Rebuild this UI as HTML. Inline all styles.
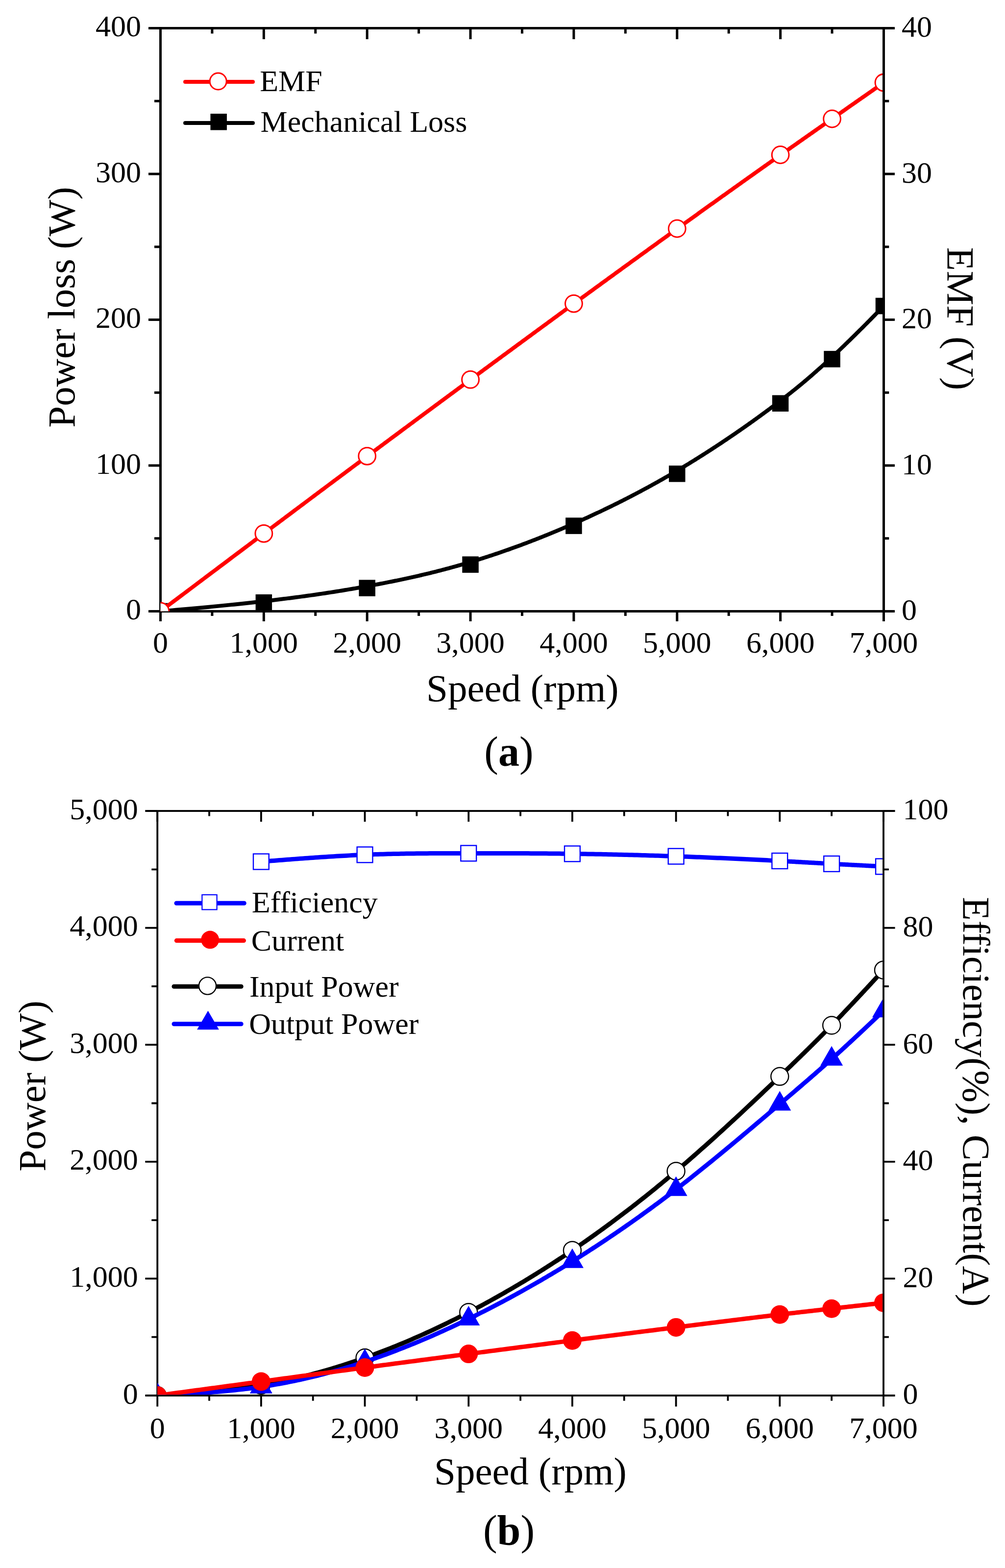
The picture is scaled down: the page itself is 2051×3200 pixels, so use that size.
<!DOCTYPE html>
<html><head><meta charset="utf-8"><title>Speed characteristics</title>
<style>html,body{margin:0;padding:0;background:#fff;}svg{display:block;}text{font-family:'Liberation Serif', 'Times New Roman', serif;fill:#000;}</style>
</head><body>
<svg width="2051" height="3200" viewBox="0 0 2051 3200">
<rect width="2051" height="3200" fill="#fff"/>
<defs>
<clipPath id="c1"><rect x="327.5" y="57.5" width="1473.5" height="1190"/></clipPath>
<clipPath id="c2"><rect x="321.2" y="1655" width="1479.8" height="1191.2"/></clipPath>
</defs>
<rect x="327.5" y="57.5" width="1476" height="1190" fill="none" stroke="#000" stroke-width="5"/>
<path d="M327.5 1247.5V1268 M538.36 1247.5V1268 M749.21 1247.5V1268 M960.07 1247.5V1268 M1170.93 1247.5V1268 M1381.79 1247.5V1268 M1592.64 1247.5V1268 M1803.5 1247.5V1268 M432.93 1247.5V1257 M643.79 1247.5V1257 M854.64 1247.5V1257 M1065.5 1247.5V1257 M1276.36 1247.5V1257 M1487.21 1247.5V1257 M1698.07 1247.5V1257 M327.5 57.5V80 M538.36 57.5V80 M749.21 57.5V80 M960.07 57.5V80 M1170.93 57.5V80 M1381.79 57.5V80 M1592.64 57.5V80 M1803.5 57.5V80 M432.93 57.5V68.6 M643.79 57.5V68.6 M854.64 57.5V68.6 M1065.5 57.5V68.6 M1276.36 57.5V68.6 M1487.21 57.5V68.6 M1698.07 57.5V68.6 M327.5 1247.5H303 M327.5 950H303 M327.5 652.5H303 M327.5 355H303 M327.5 57.5H303 M327.5 1098.75H315 M327.5 801.25H315 M327.5 503.75H315 M327.5 206.25H315 M1803.5 1247.5H1826 M1803.5 950H1826 M1803.5 652.5H1826 M1803.5 355H1826 M1803.5 57.5H1826 M1803.5 1098.75H1814.3 M1803.5 801.25H1814.3 M1803.5 503.75H1814.3 M1803.5 206.25H1814.3" stroke="#000" stroke-width="5" fill="none"/>
<text x="327.5" y="1332" font-size="62" text-anchor="middle">0</text>
<text x="538.36" y="1332" font-size="62" text-anchor="middle">1,000</text>
<text x="749.21" y="1332" font-size="62" text-anchor="middle">2,000</text>
<text x="960.07" y="1332" font-size="62" text-anchor="middle">3,000</text>
<text x="1170.93" y="1332" font-size="62" text-anchor="middle">4,000</text>
<text x="1381.79" y="1332" font-size="62" text-anchor="middle">5,000</text>
<text x="1592.64" y="1332" font-size="62" text-anchor="middle">6,000</text>
<text x="1803.5" y="1332" font-size="62" text-anchor="middle">7,000</text>
<text x="288" y="1264.4" font-size="62" text-anchor="end">0</text>
<text x="288" y="966.9" font-size="62" text-anchor="end">100</text>
<text x="288" y="669.4" font-size="62" text-anchor="end">200</text>
<text x="288" y="371.9" font-size="62" text-anchor="end">300</text>
<text x="288" y="74.4" font-size="62" text-anchor="end">400</text>
<text x="1840" y="1265" font-size="62">0</text>
<text x="1840" y="967.5" font-size="62">10</text>
<text x="1840" y="670" font-size="62">20</text>
<text x="1840" y="372.5" font-size="62">30</text>
<text x="1840" y="75" font-size="62">40</text>
<text x="1066.3" y="1431" font-size="79" text-anchor="middle">Speed (rpm)</text>
<text transform="translate(151.5 627) rotate(-90)" x="0" y="0" font-size="79" text-anchor="middle">Power loss (W)</text>
<text transform="translate(1934 650.5) rotate(90)" x="0" y="0" font-size="79" text-anchor="middle">EMF (V)</text>
<text x="1038.5" y="1562.8" font-size="86" text-anchor="middle">(<tspan font-weight="bold">a</tspan>)</text>
<g clip-path="url(#c1)">
<path d="M327.5 1247.5 L333.8 1246.97 L340.05 1246.43 L346.23 1245.9 L352.34 1245.37 L358.4 1244.85 L364.39 1244.32 L370.33 1243.8 L376.2 1243.28 L382.02 1242.76 L387.78 1242.24 L393.48 1241.72 L399.12 1241.21 L404.7 1240.69 L410.23 1240.18 L415.7 1239.67 L421.12 1239.16 L426.48 1238.65 L431.79 1238.14 L437.04 1237.64 L442.24 1237.13 L447.38 1236.63 L452.48 1236.13 L457.52 1235.63 L462.51 1235.13 L467.45 1234.64 L472.34 1234.14 L477.18 1233.65 L481.97 1233.15 L486.72 1232.66 L491.41 1232.17 L496.06 1231.68 L500.66 1231.19 L505.21 1230.7 L509.72 1230.22 L514.18 1229.73 L518.6 1229.25 L522.97 1228.76 L527.3 1228.28 L531.58 1227.8 L535.83 1227.32 L540.03 1226.84 L544.19 1226.36 L548.3 1225.88 L552.38 1225.41 L556.42 1224.93 L560.41 1224.46 L564.37 1223.98 L568.29 1223.51 L572.17 1223.03 L576.02 1222.56 L579.82 1222.09 L583.59 1221.62 L587.33 1221.15 L591.03 1220.68 L594.69 1220.21 L598.32 1219.75 L601.92 1219.28 L605.48 1218.81 L609.01 1218.35 L612.51 1217.88 L615.97 1217.41 L619.41 1216.95 L622.81 1216.49 L626.18 1216.02 L629.53 1215.56 L632.84 1215.1 L636.13 1214.63 L639.39 1214.17 L642.62 1213.71 L645.83 1213.25 L649.01 1212.79 L652.16 1212.32 L655.29 1211.86 L658.39 1211.4 L661.47 1210.94 L664.52 1210.48 L667.55 1210.02 L670.56 1209.56 L673.55 1209.1 L676.51 1208.64 L679.45 1208.18 L682.38 1207.73 L685.28 1207.27 L688.16 1206.81 L691.03 1206.35 L693.88 1205.89 L696.7 1205.43 L699.51 1204.97 L702.31 1204.51 L705.09 1204.05 L707.85 1203.59 L710.59 1203.13 L713.33 1202.67 L716.04 1202.21 L718.75 1201.75 L721.44 1201.29 L724.12 1200.83 L726.78 1200.36 L729.44 1199.9 L732.08 1199.44 L734.72 1198.98 L737.34 1198.51 L739.95 1198.05 L742.55 1197.59 L745.14 1197.12 L747.73 1196.66 L750.3 1196.19 L752.86 1195.73 L755.41 1195.26 L757.96 1194.79 L760.49 1194.33 L763.01 1193.86 L765.53 1193.39 L768.03 1192.92 L770.53 1192.45 L773.02 1191.98 L775.5 1191.51 L777.97 1191.03 L780.43 1190.56 L782.88 1190.08 L785.32 1189.61 L787.76 1189.13 L790.19 1188.66 L792.61 1188.18 L795.02 1187.7 L797.42 1187.22 L799.82 1186.74 L802.2 1186.25 L804.59 1185.77 L806.96 1185.28 L809.32 1184.8 L811.68 1184.31 L814.03 1183.82 L816.38 1183.33 L818.71 1182.84 L821.04 1182.35 L823.37 1181.85 L825.68 1181.36 L827.99 1180.86 L830.3 1180.36 L832.6 1179.87 L834.89 1179.36 L837.17 1178.86 L839.45 1178.36 L841.73 1177.85 L843.99 1177.34 L846.25 1176.84 L848.51 1176.32 L850.76 1175.81 L853.01 1175.3 L855.25 1174.78 L857.48 1174.27 L859.71 1173.75 L861.94 1173.22 L864.16 1172.7 L866.37 1172.18 L868.58 1171.65 L870.79 1171.12 L872.99 1170.59 L875.19 1170.06 L877.38 1169.52 L879.57 1168.99 L881.76 1168.45 L883.94 1167.91 L886.12 1167.36 L888.29 1166.82 L890.46 1166.27 L892.63 1165.72 L894.79 1165.17 L896.95 1164.61 L899.11 1164.06 L901.26 1163.5 L903.41 1162.94 L905.56 1162.37 L907.71 1161.81 L909.85 1161.24 L911.99 1160.67 L914.13 1160.09 L916.27 1159.52 L918.4 1158.94 L920.53 1158.36 L922.66 1157.77 L924.79 1157.19 L926.91 1156.6 L929.04 1156.01 L931.16 1155.41 L933.28 1154.82 L935.4 1154.22 L937.52 1153.61 L939.64 1153.01 L941.76 1152.4 L943.87 1151.79 L945.99 1151.17 L948.1 1150.55 L950.21 1149.93 L952.33 1149.31 L954.44 1148.69 L956.55 1148.06 L958.66 1147.42 L960.78 1146.79 L962.89 1146.15 L965 1145.51 L967.11 1144.86 L969.22 1144.21 L971.34 1143.56 L973.45 1142.91 L975.56 1142.25 L977.67 1141.59 L979.78 1140.93 L981.9 1140.26 L984.01 1139.59 L986.12 1138.92 L988.23 1138.24 L990.34 1137.56 L992.46 1136.88 L994.57 1136.2 L996.68 1135.51 L998.79 1134.82 L1000.91 1134.12 L1003.02 1133.43 L1005.13 1132.73 L1007.24 1132.02 L1009.35 1131.32 L1011.47 1130.61 L1013.58 1129.89 L1015.69 1129.18 L1017.8 1128.46 L1019.91 1127.74 L1022.03 1127.01 L1024.14 1126.29 L1026.25 1125.55 L1028.36 1124.82 L1030.47 1124.08 L1032.59 1123.34 L1034.7 1122.6 L1036.81 1121.86 L1038.92 1121.11 L1041.03 1120.36 L1043.15 1119.6 L1045.26 1118.84 L1047.37 1118.08 L1049.48 1117.32 L1051.6 1116.55 L1053.71 1115.78 L1055.82 1115.01 L1057.93 1114.24 L1060.04 1113.46 L1062.16 1112.68 L1064.27 1111.89 L1066.38 1111.11 L1068.49 1110.32 L1070.6 1109.52 L1072.72 1108.73 L1074.83 1107.93 L1076.94 1107.13 L1079.05 1106.32 L1081.16 1105.52 L1083.28 1104.71 L1085.39 1103.89 L1087.5 1103.08 L1089.61 1102.26 L1091.73 1101.44 L1093.84 1100.61 L1095.95 1099.78 L1098.06 1098.95 L1100.17 1098.12 L1102.29 1097.29 L1104.4 1096.45 L1106.51 1095.6 L1108.62 1094.76 L1110.73 1093.91 L1112.85 1093.06 L1114.96 1092.21 L1117.07 1091.35 L1119.18 1090.49 L1121.29 1089.63 L1123.41 1088.77 L1125.52 1087.9 L1127.63 1087.03 L1129.74 1086.16 L1131.85 1085.28 L1133.97 1084.4 L1136.08 1083.52 L1138.19 1082.64 L1140.3 1081.75 L1142.42 1080.86 L1144.53 1079.97 L1146.64 1079.08 L1148.75 1078.18 L1150.86 1077.28 L1152.98 1076.37 L1155.09 1075.47 L1157.2 1074.56 L1159.31 1073.65 L1161.42 1072.73 L1163.54 1071.81 L1165.65 1070.89 L1167.76 1069.97 L1169.87 1069.05 L1171.98 1068.12 L1174.1 1067.19 L1176.21 1066.25 L1178.32 1065.32 L1180.43 1064.38 L1182.55 1063.44 L1184.66 1062.49 L1186.77 1061.55 L1188.88 1060.6 L1190.99 1059.64 L1193.11 1058.69 L1195.22 1057.73 L1197.33 1056.77 L1199.44 1055.8 L1201.55 1054.84 L1203.67 1053.87 L1205.78 1052.89 L1207.89 1051.92 L1210 1050.94 L1212.11 1049.96 L1214.23 1048.97 L1216.34 1047.98 L1218.45 1046.99 L1220.56 1046 L1222.67 1045 L1224.79 1044.01 L1226.9 1043 L1229.01 1042 L1231.12 1040.99 L1233.24 1039.98 L1235.35 1038.96 L1237.46 1037.95 L1239.57 1036.93 L1241.68 1035.9 L1243.8 1034.88 L1245.91 1033.85 L1248.02 1032.81 L1250.13 1031.78 L1252.24 1030.74 L1254.36 1029.7 L1256.47 1028.65 L1258.58 1027.6 L1260.69 1026.55 L1262.8 1025.5 L1264.92 1024.44 L1267.03 1023.38 L1269.14 1022.31 L1271.25 1021.25 L1273.37 1020.18 L1275.48 1019.1 L1277.59 1018.03 L1279.7 1016.95 L1281.81 1015.86 L1283.93 1014.77 L1286.04 1013.68 L1288.15 1012.59 L1290.26 1011.49 L1292.37 1010.39 L1294.49 1009.29 L1296.6 1008.18 L1298.71 1007.07 L1300.82 1005.96 L1302.93 1004.84 L1305.05 1003.72 L1307.16 1002.6 L1309.27 1001.47 L1311.38 1000.34 L1313.49 999.21 L1315.61 998.07 L1317.72 996.93 L1319.83 995.79 L1321.94 994.64 L1324.06 993.49 L1326.17 992.34 L1328.28 991.18 L1330.39 990.02 L1332.5 988.85 L1334.62 987.68 L1336.73 986.51 L1338.84 985.34 L1340.95 984.16 L1343.06 982.97 L1345.18 981.79 L1347.29 980.6 L1349.4 979.4 L1351.51 978.21 L1353.62 977.01 L1355.74 975.8 L1357.85 974.6 L1359.96 973.38 L1362.07 972.17 L1364.18 970.95 L1366.3 969.73 L1368.41 968.5 L1370.52 967.27 L1372.63 966.04 L1374.75 964.8 L1376.86 963.56 L1378.97 962.32 L1381.08 961.07 L1383.19 959.81 L1385.31 958.56 L1387.42 957.3 L1389.53 956.04 L1391.64 954.77 L1393.75 953.5 L1395.86 952.22 L1397.97 950.95 L1400.08 949.67 L1402.19 948.38 L1404.3 947.1 L1406.41 945.8 L1408.52 944.51 L1410.63 943.21 L1412.74 941.91 L1414.84 940.61 L1416.95 939.3 L1419.05 937.99 L1421.15 936.68 L1423.26 935.37 L1425.36 934.05 L1427.46 932.73 L1429.56 931.4 L1431.65 930.08 L1433.75 928.75 L1435.85 927.42 L1437.94 926.08 L1440.03 924.75 L1442.12 923.41 L1444.21 922.06 L1446.3 920.72 L1448.39 919.37 L1450.47 918.02 L1452.56 916.67 L1454.64 915.32 L1456.72 913.96 L1458.79 912.61 L1460.87 911.25 L1462.94 909.89 L1465.01 908.52 L1467.08 907.16 L1469.15 905.79 L1471.22 904.42 L1473.28 903.05 L1475.34 901.68 L1477.4 900.3 L1479.45 898.92 L1481.51 897.55 L1483.56 896.17 L1485.6 894.79 L1487.65 893.4 L1489.69 892.02 L1491.73 890.63 L1493.77 889.25 L1495.8 887.86 L1497.84 886.47 L1499.86 885.08 L1501.89 883.69 L1503.91 882.3 L1505.93 880.9 L1507.95 879.51 L1509.96 878.11 L1511.97 876.72 L1513.98 875.32 L1515.98 873.92 L1517.98 872.52 L1519.98 871.12 L1521.97 869.72 L1523.96 868.32 L1525.94 866.92 L1527.92 865.51 L1529.9 864.11 L1531.88 862.71 L1533.85 861.3 L1535.81 859.9 L1537.78 858.5 L1539.73 857.09 L1541.69 855.69 L1543.64 854.28 L1545.58 852.88 L1547.53 851.47 L1549.46 850.06 L1551.4 848.66 L1553.33 847.25 L1555.25 845.85 L1557.17 844.44 L1559.09 843.04 L1561 841.63 L1562.9 840.23 L1564.8 838.82 L1566.7 837.42 L1568.59 836.02 L1570.48 834.61 L1572.36 833.21 L1574.24 831.81 L1576.11 830.41 L1577.98 829.01 L1579.84 827.61 L1581.7 826.21 L1583.55 824.81 L1585.4 823.41 L1587.24 822.01 L1589.07 820.62 L1590.91 819.22 L1592.73 817.82 L1594.56 816.42 L1596.38 815.02 L1598.2 813.62 L1600.02 812.21 L1601.83 810.81 L1603.65 809.4 L1605.46 807.98 L1607.27 806.56 L1609.08 805.14 L1610.89 803.72 L1612.7 802.28 L1614.51 800.85 L1616.32 799.41 L1618.14 797.96 L1619.95 796.5 L1621.77 795.04 L1623.59 793.57 L1625.41 792.09 L1627.24 790.61 L1629.07 789.12 L1630.9 787.61 L1632.74 786.1 L1634.58 784.58 L1636.43 783.05 L1638.28 781.51 L1640.14 779.96 L1642 778.39 L1643.87 776.82 L1645.75 775.23 L1647.64 773.63 L1649.53 772.02 L1651.43 770.39 L1653.34 768.76 L1655.26 767.1 L1657.18 765.44 L1659.12 763.75 L1661.07 762.06 L1663.02 760.35 L1664.99 758.62 L1666.97 756.87 L1668.96 755.11 L1670.96 753.33 L1672.97 751.54 L1675 749.73 L1677.03 747.89 L1679.09 746.04 L1681.15 744.17 L1683.23 742.29 L1685.32 740.38 L1687.43 738.45 L1689.56 736.5 L1691.69 734.53 L1693.85 732.54 L1696.02 730.53 L1698.21 728.49 L1700.41 726.44 L1702.63 724.35 L1704.87 722.25 L1707.13 720.12 L1709.4 717.97 L1711.7 715.8 L1714.01 713.6 L1716.34 711.37 L1718.69 709.12 L1721.07 706.84 L1723.46 704.54 L1725.88 702.21 L1728.31 699.85 L1730.77 697.46 L1733.25 695.05 L1735.75 692.61 L1738.27 690.14 L1740.82 687.64 L1743.39 685.11 L1745.99 682.55 L1748.61 679.96 L1751.25 677.34 L1753.92 674.69 L1756.62 672.01 L1759.34 669.3 L1762.09 666.55 L1764.86 663.77 L1767.66 660.96 L1770.49 658.11 L1773.34 655.24 L1776.23 652.32 L1779.14 649.37 L1782.08 646.39 L1785.05 643.37 L1788.05 640.32 L1791.08 637.23 L1794.14 634.1 L1797.23 630.94 L1800.35 627.74 L1803.5 624.5" fill="none" stroke="#000" stroke-width="8" stroke-linejoin="round"/>
<rect x="310.75" y="1230.75" width="33.5" height="33.5" fill="#000"/>
<rect x="521.61" y="1212.95" width="33.5" height="33.5" fill="#000"/>
<rect x="732.46" y="1183.35" width="33.5" height="33.5" fill="#000"/>
<rect x="943.32" y="1135.45" width="33.5" height="33.5" fill="#000"/>
<rect x="1154.18" y="1056.35" width="33.5" height="33.5" fill="#000"/>
<rect x="1365.04" y="950.15" width="33.5" height="33.5" fill="#000"/>
<rect x="1575.89" y="806.45" width="33.5" height="33.5" fill="#000"/>
<rect x="1681.32" y="716.15" width="33.5" height="33.5" fill="#000"/>
<rect x="1786.75" y="607.75" width="33.5" height="33.5" fill="#000"/>
<path d="M327.5 1247.5 L333.8 1242.75 L340.05 1238.06 L346.23 1233.41 L352.34 1228.8 L358.4 1224.25 L364.39 1219.74 L370.33 1215.27 L376.2 1210.85 L382.02 1206.47 L387.78 1202.14 L393.48 1197.86 L399.12 1193.61 L404.7 1189.41 L410.23 1185.25 L415.7 1181.14 L421.12 1177.07 L426.48 1173.03 L431.79 1169.04 L437.04 1165.09 L442.24 1161.18 L447.38 1157.32 L452.48 1153.49 L457.52 1149.7 L462.51 1145.94 L467.45 1142.23 L472.34 1138.55 L477.18 1134.92 L481.97 1131.32 L486.72 1127.75 L491.41 1124.23 L496.06 1120.73 L500.66 1117.28 L505.21 1113.86 L509.72 1110.47 L514.18 1107.12 L518.6 1103.8 L522.97 1100.52 L527.3 1097.27 L531.58 1094.05 L535.83 1090.87 L540.03 1087.71 L544.19 1084.59 L548.3 1081.5 L552.38 1078.44 L556.42 1075.41 L560.41 1072.41 L564.37 1069.44 L568.29 1066.5 L572.17 1063.59 L576.02 1060.71 L579.82 1057.85 L583.59 1055.03 L587.33 1052.23 L591.03 1049.45 L594.69 1046.71 L598.32 1043.98 L601.92 1041.29 L605.48 1038.62 L609.01 1035.97 L612.51 1033.35 L615.97 1030.76 L619.41 1028.18 L622.81 1025.63 L626.18 1023.1 L629.53 1020.6 L632.84 1018.12 L636.13 1015.66 L639.39 1013.22 L642.62 1010.8 L645.83 1008.4 L649.01 1006.02 L652.16 1003.66 L655.29 1001.32 L658.39 999 L661.47 996.7 L664.52 994.41 L667.55 992.15 L670.56 989.9 L673.55 987.66 L676.51 985.45 L679.45 983.25 L682.38 981.06 L685.28 978.89 L688.16 976.74 L691.03 974.6 L693.88 972.47 L696.7 970.36 L699.51 968.26 L702.31 966.17 L705.09 964.1 L707.85 962.04 L710.59 959.99 L713.33 957.95 L716.04 955.92 L718.75 953.9 L721.44 951.89 L724.12 949.9 L726.78 947.91 L729.44 945.93 L732.08 943.96 L734.72 941.99 L737.34 940.04 L739.95 938.09 L742.55 936.15 L745.14 934.22 L747.73 932.29 L750.3 930.38 L752.86 928.47 L755.41 926.57 L757.96 924.67 L760.49 922.79 L763.01 920.91 L765.53 919.03 L768.03 917.17 L770.53 915.31 L773.02 913.46 L775.5 911.61 L777.97 909.78 L780.43 907.95 L782.88 906.12 L785.32 904.3 L787.76 902.49 L790.19 900.69 L792.61 898.89 L795.02 897.09 L797.42 895.31 L799.82 893.53 L802.2 891.75 L804.59 889.98 L806.96 888.22 L809.32 886.46 L811.68 884.71 L814.03 882.96 L816.38 881.22 L818.71 879.48 L821.04 877.75 L823.37 876.03 L825.68 874.31 L827.99 872.59 L830.3 870.88 L832.6 869.18 L834.89 867.48 L837.17 865.78 L839.45 864.09 L841.73 862.41 L843.99 860.72 L846.25 859.05 L848.51 857.37 L850.76 855.71 L853.01 854.04 L855.25 852.38 L857.48 850.72 L859.71 849.07 L861.94 847.42 L864.16 845.78 L866.37 844.14 L868.58 842.5 L870.79 840.86 L872.99 839.23 L875.19 837.61 L877.38 835.98 L879.57 834.36 L881.76 832.74 L883.94 831.13 L886.12 829.52 L888.29 827.91 L890.46 826.3 L892.63 824.7 L894.79 823.1 L896.95 821.5 L899.11 819.9 L901.26 818.31 L903.41 816.72 L905.56 815.13 L907.71 813.54 L909.85 811.96 L911.99 810.38 L914.13 808.8 L916.27 807.22 L918.4 805.64 L920.53 804.07 L922.66 802.49 L924.79 800.92 L926.91 799.35 L929.04 797.78 L931.16 796.21 L933.28 794.64 L935.4 793.08 L937.52 791.51 L939.64 789.95 L941.76 788.39 L943.87 786.82 L945.99 785.26 L948.1 783.7 L950.21 782.14 L952.33 780.58 L954.44 779.02 L956.55 777.46 L958.66 775.91 L960.78 774.35 L962.89 772.79 L965 771.23 L967.11 769.67 L969.22 768.11 L971.34 766.56 L973.45 765 L975.56 763.44 L977.67 761.88 L979.78 760.32 L981.9 758.77 L984.01 757.21 L986.12 755.65 L988.23 754.09 L990.34 752.54 L992.46 750.98 L994.57 749.42 L996.68 747.87 L998.79 746.31 L1000.91 744.75 L1003.02 743.2 L1005.13 741.64 L1007.24 740.08 L1009.35 738.53 L1011.47 736.97 L1013.58 735.42 L1015.69 733.86 L1017.8 732.31 L1019.91 730.75 L1022.03 729.2 L1024.14 727.64 L1026.25 726.09 L1028.36 724.53 L1030.47 722.98 L1032.59 721.42 L1034.7 719.87 L1036.81 718.31 L1038.92 716.76 L1041.03 715.2 L1043.15 713.65 L1045.26 712.1 L1047.37 710.54 L1049.48 708.99 L1051.6 707.44 L1053.71 705.88 L1055.82 704.33 L1057.93 702.78 L1060.04 701.22 L1062.16 699.67 L1064.27 698.12 L1066.38 696.57 L1068.49 695.01 L1070.6 693.46 L1072.72 691.91 L1074.83 690.36 L1076.94 688.81 L1079.05 687.25 L1081.16 685.7 L1083.28 684.15 L1085.39 682.6 L1087.5 681.05 L1089.61 679.5 L1091.73 677.95 L1093.84 676.4 L1095.95 674.85 L1098.06 673.3 L1100.17 671.75 L1102.29 670.2 L1104.4 668.65 L1106.51 667.1 L1108.62 665.55 L1110.73 664 L1112.85 662.45 L1114.96 660.91 L1117.07 659.36 L1119.18 657.81 L1121.29 656.26 L1123.41 654.71 L1125.52 653.16 L1127.63 651.62 L1129.74 650.07 L1131.85 648.52 L1133.97 646.98 L1136.08 645.43 L1138.19 643.88 L1140.3 642.34 L1142.42 640.79 L1144.53 639.24 L1146.64 637.7 L1148.75 636.15 L1150.86 634.61 L1152.98 633.06 L1155.09 631.52 L1157.2 629.97 L1159.31 628.43 L1161.42 626.88 L1163.54 625.34 L1165.65 623.79 L1167.76 622.25 L1169.87 620.71 L1171.98 619.16 L1174.1 617.62 L1176.21 616.08 L1178.32 614.53 L1180.43 612.99 L1182.55 611.45 L1184.66 609.9 L1186.77 608.36 L1188.88 606.82 L1190.99 605.28 L1193.11 603.74 L1195.22 602.2 L1197.33 600.65 L1199.44 599.11 L1201.55 597.57 L1203.67 596.03 L1205.78 594.49 L1207.89 592.95 L1210 591.41 L1212.11 589.87 L1214.23 588.33 L1216.34 586.79 L1218.45 585.25 L1220.56 583.72 L1222.67 582.18 L1224.79 580.64 L1226.9 579.1 L1229.01 577.56 L1231.12 576.03 L1233.24 574.49 L1235.35 572.95 L1237.46 571.41 L1239.57 569.88 L1241.68 568.34 L1243.8 566.8 L1245.91 565.27 L1248.02 563.73 L1250.13 562.2 L1252.24 560.66 L1254.36 559.12 L1256.47 557.59 L1258.58 556.06 L1260.69 554.52 L1262.8 552.99 L1264.92 551.45 L1267.03 549.92 L1269.14 548.38 L1271.25 546.85 L1273.37 545.32 L1275.48 543.78 L1277.59 542.25 L1279.7 540.72 L1281.81 539.19 L1283.93 537.65 L1286.04 536.12 L1288.15 534.59 L1290.26 533.06 L1292.37 531.53 L1294.49 530 L1296.6 528.47 L1298.71 526.94 L1300.82 525.41 L1302.93 523.88 L1305.05 522.35 L1307.16 520.82 L1309.27 519.29 L1311.38 517.76 L1313.49 516.23 L1315.61 514.7 L1317.72 513.17 L1319.83 511.65 L1321.94 510.12 L1324.06 508.59 L1326.17 507.06 L1328.28 505.54 L1330.39 504.01 L1332.5 502.48 L1334.62 500.96 L1336.73 499.43 L1338.84 497.9 L1340.95 496.38 L1343.06 494.85 L1345.18 493.33 L1347.29 491.8 L1349.4 490.28 L1351.51 488.75 L1353.62 487.23 L1355.74 485.71 L1357.85 484.18 L1359.96 482.66 L1362.07 481.14 L1364.18 479.61 L1366.3 478.09 L1368.41 476.57 L1370.52 475.05 L1372.63 473.52 L1374.75 472 L1376.86 470.48 L1378.97 468.96 L1381.08 467.44 L1383.19 465.92 L1385.31 464.4 L1387.42 462.88 L1389.53 461.36 L1391.64 459.84 L1393.75 458.32 L1395.86 456.8 L1397.97 455.29 L1400.08 453.77 L1402.19 452.25 L1404.3 450.74 L1406.41 449.22 L1408.52 447.71 L1410.63 446.19 L1412.74 444.68 L1414.84 443.17 L1416.95 441.66 L1419.05 440.15 L1421.15 438.64 L1423.26 437.13 L1425.36 435.62 L1427.46 434.11 L1429.56 432.61 L1431.65 431.1 L1433.75 429.6 L1435.85 428.1 L1437.94 426.6 L1440.03 425.1 L1442.12 423.6 L1444.21 422.1 L1446.3 420.61 L1448.39 419.11 L1450.47 417.62 L1452.56 416.13 L1454.64 414.64 L1456.72 413.15 L1458.79 411.67 L1460.87 410.18 L1462.94 408.7 L1465.01 407.22 L1467.08 405.74 L1469.15 404.26 L1471.22 402.78 L1473.28 401.31 L1475.34 399.84 L1477.4 398.37 L1479.45 396.9 L1481.51 395.43 L1483.56 393.97 L1485.6 392.51 L1487.65 391.05 L1489.69 389.59 L1491.73 388.13 L1493.77 386.68 L1495.8 385.23 L1497.84 383.78 L1499.86 382.34 L1501.89 380.89 L1503.91 379.45 L1505.93 378.01 L1507.95 376.58 L1509.96 375.14 L1511.97 373.71 L1513.98 372.28 L1515.98 370.86 L1517.98 369.43 L1519.98 368.01 L1521.97 366.6 L1523.96 365.18 L1525.94 363.77 L1527.92 362.36 L1529.9 360.95 L1531.88 359.55 L1533.85 358.15 L1535.81 356.75 L1537.78 355.36 L1539.73 353.97 L1541.69 352.58 L1543.64 351.2 L1545.58 349.81 L1547.53 348.44 L1549.46 347.06 L1551.4 345.69 L1553.33 344.32 L1555.25 342.96 L1557.17 341.6 L1559.09 340.24 L1561 338.88 L1562.9 337.53 L1564.8 336.19 L1566.7 334.84 L1568.59 333.5 L1570.48 332.17 L1572.36 330.84 L1574.24 329.51 L1576.11 328.18 L1577.98 326.86 L1579.84 325.55 L1581.7 324.23 L1583.55 322.93 L1585.4 321.62 L1587.24 320.32 L1589.07 319.02 L1590.91 317.73 L1592.73 316.44 L1594.56 315.15 L1596.38 313.86 L1598.2 312.58 L1600.02 311.3 L1601.83 310.02 L1603.65 308.74 L1605.46 307.46 L1607.27 306.19 L1609.08 304.91 L1610.89 303.64 L1612.7 302.36 L1614.51 301.09 L1616.32 299.81 L1618.14 298.54 L1619.95 297.26 L1621.77 295.98 L1623.59 294.7 L1625.41 293.42 L1627.24 292.13 L1629.07 290.85 L1630.9 289.56 L1632.74 288.27 L1634.58 286.97 L1636.43 285.68 L1638.28 284.37 L1640.14 283.07 L1642 281.76 L1643.87 280.45 L1645.75 279.13 L1647.64 277.81 L1649.53 276.48 L1651.43 275.14 L1653.34 273.8 L1655.26 272.46 L1657.18 271.11 L1659.12 269.75 L1661.07 268.38 L1663.02 267.01 L1664.99 265.63 L1666.97 264.25 L1668.96 262.85 L1670.96 261.45 L1672.97 260.04 L1675 258.62 L1677.03 257.19 L1679.09 255.75 L1681.15 254.3 L1683.23 252.85 L1685.32 251.38 L1687.43 249.9 L1689.56 248.42 L1691.69 246.92 L1693.85 245.41 L1696.02 243.89 L1698.21 242.36 L1700.41 240.81 L1702.63 239.26 L1704.87 237.69 L1707.13 236.11 L1709.4 234.52 L1711.7 232.91 L1714.01 231.29 L1716.34 229.66 L1718.69 228.01 L1721.07 226.35 L1723.46 224.67 L1725.88 222.98 L1728.31 221.27 L1730.77 219.55 L1733.25 217.82 L1735.75 216.07 L1738.27 214.3 L1740.82 212.51 L1743.39 210.71 L1745.99 208.89 L1748.61 207.06 L1751.25 205.21 L1753.92 203.34 L1756.62 201.45 L1759.34 199.54 L1762.09 197.62 L1764.86 195.68 L1767.66 193.71 L1770.49 191.73 L1773.34 189.73 L1776.23 187.71 L1779.14 185.67 L1782.08 183.61 L1785.05 181.53 L1788.05 179.43 L1791.08 177.31 L1794.14 175.16 L1797.23 173 L1800.35 170.81 L1803.5 168.6" fill="none" stroke="#f00" stroke-width="8" stroke-linejoin="round"/>
<circle cx="327.5" cy="1247.5" r="17.4" fill="#fff" stroke="#f00" stroke-width="3"/>
<circle cx="538.36" cy="1088.8" r="17.4" fill="#fff" stroke="#f00" stroke-width="3"/>
<circle cx="749.21" cy="930.8" r="17.4" fill="#fff" stroke="#f00" stroke-width="3"/>
<circle cx="960.07" cy="774.7" r="17.4" fill="#fff" stroke="#f00" stroke-width="3"/>
<circle cx="1170.93" cy="619.6" r="17.4" fill="#fff" stroke="#f00" stroke-width="3"/>
<circle cx="1381.79" cy="466.5" r="17.4" fill="#fff" stroke="#f00" stroke-width="3"/>
<circle cx="1592.64" cy="316" r="17.4" fill="#fff" stroke="#f00" stroke-width="3"/>
<circle cx="1698.07" cy="242.5" r="17.4" fill="#fff" stroke="#f00" stroke-width="3"/>
<circle cx="1803.5" cy="168.6" r="17.4" fill="#fff" stroke="#f00" stroke-width="3"/>
</g>
<path d="M378 166.9H516" stroke="#f00" stroke-width="8" stroke-linecap="round"/>
<circle cx="445.2" cy="166" r="17" fill="#fff" stroke="#f00" stroke-width="3"/>
<text x="530.2" y="185.7" font-size="62">EMF</text>
<path d="M378 251.1H516" stroke="#000" stroke-width="8" stroke-linecap="round"/>
<rect x="429.45" y="232.05" width="33.5" height="33.5" fill="#000"/>
<text x="531.5" y="268.8" font-size="62">Mechanical Loss</text>
<rect x="321.2" y="1655" width="1481.8" height="1193" fill="none" stroke="#000" stroke-width="3.8"/>
<path d="M321.2 2848V2870.4 M532.89 2848V2870.4 M744.57 2848V2870.4 M956.26 2848V2870.4 M1167.94 2848V2870.4 M1379.63 2848V2870.4 M1591.31 2848V2870.4 M1803 2848V2870.4 M427.04 2848V2858.7 M638.73 2848V2858.7 M850.41 2848V2858.7 M1062.1 2848V2858.7 M1273.79 2848V2858.7 M1485.47 2848V2858.7 M1697.16 2848V2858.7 M321.2 1655V1677.1 M532.89 1655V1677.1 M744.57 1655V1677.1 M956.26 1655V1677.1 M1167.94 1655V1677.1 M1379.63 1655V1677.1 M1591.31 1655V1677.1 M1803 1655V1677.1 M427.04 1655V1665.6 M638.73 1655V1665.6 M850.41 1655V1665.6 M1062.1 1655V1665.6 M1273.79 1655V1665.6 M1485.47 1655V1665.6 M1697.16 1655V1665.6 M321.2 2848H296.3 M321.2 2609.4H296.3 M321.2 2370.8H296.3 M321.2 2132.2H296.3 M321.2 1893.6H296.3 M321.2 1655H296.3 M321.2 2728.7H309.3 M321.2 2490.1H309.3 M321.2 2251.5H309.3 M321.2 2012.9H309.3 M321.2 1774.3H309.3 M1803 2848H1826.6 M1803 2609.4H1826.6 M1803 2370.8H1826.6 M1803 2132.2H1826.6 M1803 1893.6H1826.6 M1803 1655H1826.6 M1803 2728.7H1813.9 M1803 2490.1H1813.9 M1803 2251.5H1813.9 M1803 2012.9H1813.9 M1803 1774.3H1813.9" stroke="#000" stroke-width="3.8" fill="none"/>
<text x="321.2" y="2934.5" font-size="62" text-anchor="middle">0</text>
<text x="532.89" y="2934.5" font-size="62" text-anchor="middle">1,000</text>
<text x="744.57" y="2934.5" font-size="62" text-anchor="middle">2,000</text>
<text x="956.26" y="2934.5" font-size="62" text-anchor="middle">3,000</text>
<text x="1167.94" y="2934.5" font-size="62" text-anchor="middle">4,000</text>
<text x="1379.63" y="2934.5" font-size="62" text-anchor="middle">5,000</text>
<text x="1591.31" y="2934.5" font-size="62" text-anchor="middle">6,000</text>
<text x="1803" y="2934.5" font-size="62" text-anchor="middle">7,000</text>
<text x="281.7" y="2864.5" font-size="62" text-anchor="end">0</text>
<text x="281.7" y="2625.9" font-size="62" text-anchor="end">1,000</text>
<text x="281.7" y="2387.3" font-size="62" text-anchor="end">2,000</text>
<text x="281.7" y="2148.7" font-size="62" text-anchor="end">3,000</text>
<text x="281.7" y="1910.1" font-size="62" text-anchor="end">4,000</text>
<text x="281.7" y="1671.5" font-size="62" text-anchor="end">5,000</text>
<text x="1842.4" y="2865.3" font-size="62">0</text>
<text x="1842.4" y="2626.7" font-size="62">20</text>
<text x="1842.4" y="2388.1" font-size="62">40</text>
<text x="1842.4" y="2149.5" font-size="62">60</text>
<text x="1842.4" y="1910.9" font-size="62">80</text>
<text x="1842.4" y="1672.3" font-size="62">100</text>
<text x="1082.4" y="3029" font-size="79" text-anchor="middle">Speed (rpm)</text>
<text transform="translate(92.4 2216.3) rotate(-90)" x="0" y="0" font-size="79" text-anchor="middle">Power (W)</text>
<text transform="translate(1965.7 2248.6) rotate(90)" x="0" y="0" font-size="79" text-anchor="middle">Efficiency(%), Current(A)</text>
<text x="1038.5" y="3151.7" font-size="86" text-anchor="middle">(<tspan font-weight="bold">b</tspan>)</text>
<g clip-path="url(#c2)">
<path d="M532.89 1758.5 L538.18 1758.08 L543.47 1757.66 L548.76 1757.24 L554.05 1756.82 L559.35 1756.4 L564.64 1755.98 L569.93 1755.57 L575.22 1755.15 L580.51 1754.74 L585.81 1754.33 L591.1 1753.92 L596.39 1753.52 L601.68 1753.12 L606.98 1752.72 L612.27 1752.33 L617.56 1751.94 L622.85 1751.55 L628.14 1751.17 L633.44 1750.79 L638.73 1750.42 L644.02 1750.05 L649.31 1749.69 L654.61 1749.33 L659.9 1748.98 L665.19 1748.64 L670.48 1748.3 L675.77 1747.97 L681.07 1747.65 L686.36 1747.33 L691.65 1747.02 L696.94 1746.72 L702.23 1746.43 L707.53 1746.14 L712.82 1745.87 L718.11 1745.6 L723.4 1745.34 L728.69 1745.09 L733.99 1744.85 L739.28 1744.62 L744.57 1744.4 L749.86 1744.19 L755.16 1743.99 L760.45 1743.8 L765.74 1743.62 L771.03 1743.45 L776.32 1743.29 L781.62 1743.13 L786.91 1742.99 L792.2 1742.85 L797.49 1742.72 L802.78 1742.6 L808.08 1742.49 L813.37 1742.39 L818.66 1742.29 L823.95 1742.2 L829.25 1742.11 L834.54 1742.03 L839.83 1741.96 L845.12 1741.89 L850.41 1741.83 L855.71 1741.78 L861 1741.73 L866.29 1741.68 L871.58 1741.64 L876.87 1741.6 L882.17 1741.57 L887.46 1741.54 L892.75 1741.51 L898.04 1741.49 L903.34 1741.47 L908.63 1741.46 L913.92 1741.44 L919.21 1741.43 L924.5 1741.42 L929.8 1741.42 L935.09 1741.41 L940.38 1741.41 L945.67 1741.4 L950.96 1741.4 L956.26 1741.4 L961.55 1741.4 L966.84 1741.4 L972.13 1741.4 L977.43 1741.4 L982.72 1741.4 L988.01 1741.4 L993.3 1741.4 L998.59 1741.41 L1003.89 1741.41 L1009.18 1741.42 L1014.47 1741.42 L1019.76 1741.43 L1025.05 1741.44 L1030.35 1741.45 L1035.64 1741.46 L1040.93 1741.47 L1046.22 1741.49 L1051.52 1741.5 L1056.81 1741.52 L1062.1 1741.54 L1067.39 1741.56 L1072.68 1741.59 L1077.98 1741.61 L1083.27 1741.64 L1088.56 1741.67 L1093.85 1741.7 L1099.14 1741.73 L1104.44 1741.77 L1109.73 1741.8 L1115.02 1741.85 L1120.31 1741.89 L1125.61 1741.93 L1130.9 1741.98 L1136.19 1742.03 L1141.48 1742.09 L1146.77 1742.14 L1152.07 1742.2 L1157.36 1742.27 L1162.65 1742.33 L1167.94 1742.4 L1173.23 1742.47 L1178.53 1742.55 L1183.82 1742.63 L1189.11 1742.71 L1194.4 1742.79 L1199.7 1742.88 L1204.99 1742.97 L1210.28 1743.06 L1215.57 1743.16 L1220.86 1743.26 L1226.16 1743.37 L1231.45 1743.47 L1236.74 1743.58 L1242.03 1743.69 L1247.32 1743.81 L1252.62 1743.93 L1257.91 1744.05 L1263.2 1744.17 L1268.49 1744.3 L1273.79 1744.43 L1279.08 1744.56 L1284.37 1744.7 L1289.66 1744.83 L1294.95 1744.98 L1300.25 1745.12 L1305.54 1745.27 L1310.83 1745.42 L1316.12 1745.57 L1321.41 1745.72 L1326.71 1745.88 L1332 1746.04 L1337.29 1746.2 L1342.58 1746.37 L1347.88 1746.54 L1353.17 1746.71 L1358.46 1746.88 L1363.75 1747.06 L1369.04 1747.24 L1374.34 1747.42 L1379.63 1747.6 L1384.92 1747.79 L1390.21 1747.97 L1395.5 1748.17 L1400.8 1748.36 L1406.09 1748.56 L1411.38 1748.75 L1416.67 1748.96 L1421.97 1749.16 L1427.26 1749.36 L1432.55 1749.57 L1437.84 1749.78 L1443.13 1750 L1448.43 1750.21 L1453.72 1750.43 L1459.01 1750.65 L1464.3 1750.88 L1469.6 1751.1 L1474.89 1751.33 L1480.18 1751.56 L1485.47 1751.8 L1490.76 1752.03 L1496.06 1752.27 L1501.35 1752.51 L1506.64 1752.76 L1511.93 1753 L1517.22 1753.25 L1522.52 1753.5 L1527.81 1753.76 L1533.1 1754.01 L1538.39 1754.27 L1543.68 1754.53 L1548.98 1754.8 L1554.27 1755.06 L1559.56 1755.33 L1564.85 1755.61 L1570.15 1755.88 L1575.44 1756.16 L1580.73 1756.43 L1586.02 1756.72 L1591.31 1757 L1593.96 1757.14 L1596.61 1757.29 L1599.25 1757.43 L1601.9 1757.58 L1604.54 1757.72 L1607.19 1757.87 L1609.84 1758.01 L1612.48 1758.16 L1615.13 1758.31 L1617.78 1758.45 L1620.42 1758.6 L1623.07 1758.75 L1625.71 1758.9 L1628.36 1759.05 L1631.01 1759.19 L1633.65 1759.34 L1636.3 1759.49 L1638.94 1759.64 L1641.59 1759.79 L1644.24 1759.94 L1646.88 1760.09 L1649.53 1760.24 L1652.17 1760.39 L1654.82 1760.54 L1657.47 1760.69 L1660.11 1760.84 L1662.76 1760.99 L1665.4 1761.13 L1668.05 1761.28 L1670.7 1761.43 L1673.34 1761.58 L1675.99 1761.73 L1678.63 1761.88 L1681.28 1762.02 L1683.93 1762.17 L1686.57 1762.32 L1689.22 1762.46 L1691.87 1762.61 L1694.51 1762.76 L1697.16 1762.9 L1699.8 1763.04 L1702.45 1763.19 L1705.1 1763.33 L1707.74 1763.47 L1710.39 1763.62 L1713.03 1763.76 L1715.68 1763.9 L1718.33 1764.04 L1720.97 1764.18 L1723.62 1764.32 L1726.26 1764.46 L1728.91 1764.6 L1731.56 1764.74 L1734.2 1764.88 L1736.85 1765.02 L1739.49 1765.15 L1742.14 1765.29 L1744.79 1765.43 L1747.43 1765.57 L1750.08 1765.7 L1752.72 1765.84 L1755.37 1765.98 L1758.02 1766.11 L1760.66 1766.25 L1763.31 1766.38 L1765.95 1766.52 L1768.6 1766.65 L1771.25 1766.79 L1773.89 1766.92 L1776.54 1767.06 L1779.19 1767.19 L1781.83 1767.33 L1784.48 1767.46 L1787.12 1767.6 L1789.77 1767.73 L1792.42 1767.86 L1795.06 1768 L1797.71 1768.13 L1800.35 1768.27 L1803 1768.4" fill="none" stroke="#00f" stroke-width="9" stroke-linejoin="round"/>
<rect x="516.99" y="1742.6" width="31.8" height="31.8" fill="#fff" stroke="#00f" stroke-width="2.4"/>
<rect x="728.67" y="1728.5" width="31.8" height="31.8" fill="#fff" stroke="#00f" stroke-width="2.4"/>
<rect x="940.36" y="1725.5" width="31.8" height="31.8" fill="#fff" stroke="#00f" stroke-width="2.4"/>
<rect x="1152.04" y="1726.5" width="31.8" height="31.8" fill="#fff" stroke="#00f" stroke-width="2.4"/>
<rect x="1363.73" y="1731.7" width="31.8" height="31.8" fill="#fff" stroke="#00f" stroke-width="2.4"/>
<rect x="1575.41" y="1741.1" width="31.8" height="31.8" fill="#fff" stroke="#00f" stroke-width="2.4"/>
<rect x="1681.26" y="1747" width="31.8" height="31.8" fill="#fff" stroke="#00f" stroke-width="2.4"/>
<rect x="1787.1" y="1752.5" width="31.8" height="31.8" fill="#fff" stroke="#00f" stroke-width="2.4"/>
<path d="M321.2 2848 L326.49 2847.65 L331.78 2847.3 L337.08 2846.94 L342.37 2846.59 L347.66 2846.23 L352.95 2845.86 L358.25 2845.5 L363.54 2845.13 L368.83 2844.75 L374.12 2844.37 L379.41 2843.98 L384.71 2843.58 L390 2843.18 L395.29 2842.77 L400.58 2842.35 L405.87 2841.91 L411.17 2841.47 L416.46 2841.02 L421.75 2840.55 L427.04 2840.07 L432.33 2839.58 L437.63 2839.07 L442.92 2838.55 L448.21 2838.01 L453.5 2837.46 L458.8 2836.89 L464.09 2836.31 L469.38 2835.7 L474.67 2835.08 L479.96 2834.44 L485.26 2833.77 L490.55 2833.09 L495.84 2832.39 L501.13 2831.66 L506.42 2830.91 L511.72 2830.14 L517.01 2829.34 L522.3 2828.52 L527.59 2827.67 L532.89 2826.8 L538.18 2825.9 L543.47 2824.97 L548.76 2824.02 L554.05 2823.04 L559.35 2822.04 L564.64 2821.01 L569.93 2819.95 L575.22 2818.86 L580.51 2817.75 L585.81 2816.62 L591.1 2815.46 L596.39 2814.27 L601.68 2813.06 L606.98 2811.82 L612.27 2810.56 L617.56 2809.27 L622.85 2807.95 L628.14 2806.62 L633.44 2805.25 L638.73 2803.86 L644.02 2802.45 L649.31 2801.01 L654.61 2799.55 L659.9 2798.06 L665.19 2796.55 L670.48 2795.01 L675.77 2793.45 L681.07 2791.87 L686.36 2790.26 L691.65 2788.62 L696.94 2786.97 L702.23 2785.29 L707.53 2783.58 L712.82 2781.86 L718.11 2780.1 L723.4 2778.33 L728.69 2776.53 L733.99 2774.71 L739.28 2772.87 L744.57 2771 L749.86 2769.11 L755.16 2767.2 L760.45 2765.26 L765.74 2763.3 L771.03 2761.32 L776.32 2759.32 L781.62 2757.29 L786.91 2755.24 L792.2 2753.17 L797.49 2751.08 L802.78 2748.96 L808.08 2746.82 L813.37 2744.66 L818.66 2742.48 L823.95 2740.28 L829.25 2738.05 L834.54 2735.8 L839.83 2733.53 L845.12 2731.24 L850.41 2728.93 L855.71 2726.59 L861 2724.24 L866.29 2721.86 L871.58 2719.46 L876.87 2717.04 L882.17 2714.6 L887.46 2712.13 L892.75 2709.65 L898.04 2707.14 L903.34 2704.61 L908.63 2702.07 L913.92 2699.5 L919.21 2696.91 L924.5 2694.3 L929.8 2691.67 L935.09 2689.01 L940.38 2686.34 L945.67 2683.65 L950.96 2680.93 L956.26 2678.2 L961.55 2675.45 L966.84 2672.67 L972.13 2669.88 L977.43 2667.06 L982.72 2664.22 L988.01 2661.37 L993.3 2658.49 L998.59 2655.59 L1003.89 2652.67 L1009.18 2649.73 L1014.47 2646.77 L1019.76 2643.79 L1025.05 2640.79 L1030.35 2637.77 L1035.64 2634.72 L1040.93 2631.66 L1046.22 2628.57 L1051.52 2625.46 L1056.81 2622.34 L1062.1 2619.19 L1067.39 2616.02 L1072.68 2612.83 L1077.98 2609.61 L1083.27 2606.38 L1088.56 2603.12 L1093.85 2599.85 L1099.14 2596.55 L1104.44 2593.23 L1109.73 2589.89 L1115.02 2586.52 L1120.31 2583.14 L1125.61 2579.73 L1130.9 2576.31 L1136.19 2572.86 L1141.48 2569.38 L1146.77 2565.89 L1152.07 2562.38 L1157.36 2558.84 L1162.65 2555.28 L1167.94 2551.7 L1173.23 2548.1 L1178.53 2544.47 L1183.82 2540.83 L1189.11 2537.16 L1194.4 2533.47 L1199.7 2529.75 L1204.99 2526.02 L1210.28 2522.26 L1215.57 2518.48 L1220.86 2514.68 L1226.16 2510.85 L1231.45 2507.01 L1236.74 2503.14 L1242.03 2499.25 L1247.32 2495.33 L1252.62 2491.4 L1257.91 2487.44 L1263.2 2483.46 L1268.49 2479.46 L1273.79 2475.43 L1279.08 2471.39 L1284.37 2467.32 L1289.66 2463.22 L1294.95 2459.11 L1300.25 2454.97 L1305.54 2450.81 L1310.83 2446.63 L1316.12 2442.42 L1321.41 2438.2 L1326.71 2433.95 L1332 2429.67 L1337.29 2425.38 L1342.58 2421.06 L1347.88 2416.72 L1353.17 2412.36 L1358.46 2407.97 L1363.75 2403.56 L1369.04 2399.13 L1374.34 2394.68 L1379.63 2390.2 L1384.92 2385.7 L1390.21 2381.18 L1395.5 2376.63 L1400.8 2372.07 L1406.09 2367.48 L1411.38 2362.87 L1416.67 2358.25 L1421.97 2353.6 L1427.26 2348.93 L1432.55 2344.24 L1437.84 2339.54 L1443.13 2334.81 L1448.43 2330.07 L1453.72 2325.31 L1459.01 2320.54 L1464.3 2315.74 L1469.6 2310.94 L1474.89 2306.11 L1480.18 2301.27 L1485.47 2296.42 L1490.76 2291.55 L1496.06 2286.66 L1501.35 2281.77 L1506.64 2276.85 L1511.93 2271.93 L1517.22 2266.99 L1522.52 2262.05 L1527.81 2257.09 L1533.1 2252.11 L1538.39 2247.13 L1543.68 2242.14 L1548.98 2237.14 L1554.27 2232.12 L1559.56 2227.1 L1564.85 2222.07 L1570.15 2217.03 L1575.44 2211.98 L1580.73 2206.93 L1586.02 2201.87 L1591.31 2196.8 L1593.96 2194.26 L1596.61 2191.72 L1599.25 2189.18 L1601.9 2186.64 L1604.54 2184.1 L1607.19 2181.55 L1609.84 2179 L1612.48 2176.45 L1615.13 2173.89 L1617.78 2171.34 L1620.42 2168.78 L1623.07 2166.21 L1625.71 2163.64 L1628.36 2161.07 L1631.01 2158.5 L1633.65 2155.92 L1636.3 2153.34 L1638.94 2150.75 L1641.59 2148.16 L1644.24 2145.57 L1646.88 2142.97 L1649.53 2140.36 L1652.17 2137.75 L1654.82 2135.14 L1657.47 2132.52 L1660.11 2129.89 L1662.76 2127.26 L1665.4 2124.63 L1668.05 2121.98 L1670.7 2119.34 L1673.34 2116.68 L1675.99 2114.02 L1678.63 2111.36 L1681.28 2108.68 L1683.93 2106 L1686.57 2103.32 L1689.22 2100.62 L1691.87 2097.92 L1694.51 2095.22 L1697.16 2092.5 L1699.8 2089.78 L1702.45 2087.05 L1705.1 2084.31 L1707.74 2081.57 L1710.39 2078.81 L1713.03 2076.06 L1715.68 2073.29 L1718.33 2070.52 L1720.97 2067.74 L1723.62 2064.96 L1726.26 2062.17 L1728.91 2059.38 L1731.56 2056.58 L1734.2 2053.78 L1736.85 2050.97 L1739.49 2048.16 L1742.14 2045.34 L1744.79 2042.51 L1747.43 2039.69 L1750.08 2036.86 L1752.72 2034.02 L1755.37 2031.18 L1758.02 2028.34 L1760.66 2025.5 L1763.31 2022.65 L1765.95 2019.8 L1768.6 2016.95 L1771.25 2014.09 L1773.89 2011.23 L1776.54 2008.37 L1779.19 2005.51 L1781.83 2002.65 L1784.48 1999.78 L1787.12 1996.92 L1789.77 1994.05 L1792.42 1991.18 L1795.06 1988.31 L1797.71 1985.44 L1800.35 1982.57 L1803 1979.7" fill="none" stroke="#000" stroke-width="9" stroke-linejoin="round"/>
<circle cx="321.2" cy="2848" r="18" fill="#fff" stroke="#000" stroke-width="2.4"/>
<circle cx="532.89" cy="2826.8" r="18" fill="#fff" stroke="#000" stroke-width="2.4"/>
<circle cx="744.57" cy="2771" r="18" fill="#fff" stroke="#000" stroke-width="2.4"/>
<circle cx="956.26" cy="2678.2" r="18" fill="#fff" stroke="#000" stroke-width="2.4"/>
<circle cx="1167.94" cy="2551.7" r="18" fill="#fff" stroke="#000" stroke-width="2.4"/>
<circle cx="1379.63" cy="2390.2" r="18" fill="#fff" stroke="#000" stroke-width="2.4"/>
<circle cx="1591.31" cy="2196.8" r="18" fill="#fff" stroke="#000" stroke-width="2.4"/>
<circle cx="1697.16" cy="2092.5" r="18" fill="#fff" stroke="#000" stroke-width="2.4"/>
<circle cx="1803" cy="1979.7" r="18" fill="#fff" stroke="#000" stroke-width="2.4"/>
<path d="M321.2 2848 L326.49 2847.73 L331.78 2847.45 L337.08 2847.18 L342.37 2846.9 L347.66 2846.62 L352.95 2846.34 L358.25 2846.06 L363.54 2845.76 L368.83 2845.47 L374.12 2845.17 L379.41 2844.86 L384.71 2844.54 L390 2844.22 L395.29 2843.89 L400.58 2843.55 L405.87 2843.2 L411.17 2842.84 L416.46 2842.47 L421.75 2842.09 L427.04 2841.7 L432.33 2841.29 L437.63 2840.87 L442.92 2840.44 L448.21 2839.99 L453.5 2839.53 L458.8 2839.05 L464.09 2838.55 L469.38 2838.04 L474.67 2837.5 L479.96 2836.95 L485.26 2836.39 L490.55 2835.8 L495.84 2835.19 L501.13 2834.56 L506.42 2833.91 L511.72 2833.23 L517.01 2832.53 L522.3 2831.81 L527.59 2831.07 L532.89 2830.3 L538.18 2829.51 L543.47 2828.68 L548.76 2827.84 L554.05 2826.97 L559.35 2826.07 L564.64 2825.15 L569.93 2824.2 L575.22 2823.23 L580.51 2822.23 L585.81 2821.21 L591.1 2820.17 L596.39 2819.09 L601.68 2818 L606.98 2816.88 L612.27 2815.73 L617.56 2814.56 L622.85 2813.36 L628.14 2812.14 L633.44 2810.9 L638.73 2809.63 L644.02 2808.34 L649.31 2807.02 L654.61 2805.68 L659.9 2804.31 L665.19 2802.92 L670.48 2801.51 L675.77 2800.07 L681.07 2798.61 L686.36 2797.12 L691.65 2795.61 L696.94 2794.08 L702.23 2792.52 L707.53 2790.93 L712.82 2789.33 L718.11 2787.7 L723.4 2786.05 L728.69 2784.37 L733.99 2782.67 L739.28 2780.95 L744.57 2779.2 L749.86 2777.43 L755.16 2775.64 L760.45 2773.82 L765.74 2771.98 L771.03 2770.12 L776.32 2768.23 L781.62 2766.33 L786.91 2764.4 L792.2 2762.45 L797.49 2760.47 L802.78 2758.48 L808.08 2756.46 L813.37 2754.42 L818.66 2752.36 L823.95 2750.28 L829.25 2748.17 L834.54 2746.05 L839.83 2743.9 L845.12 2741.74 L850.41 2739.55 L855.71 2737.34 L861 2735.12 L866.29 2732.87 L871.58 2730.6 L876.87 2728.31 L882.17 2726.01 L887.46 2723.68 L892.75 2721.33 L898.04 2718.96 L903.34 2716.58 L908.63 2714.18 L913.92 2711.75 L919.21 2709.31 L924.5 2706.85 L929.8 2704.37 L935.09 2701.87 L940.38 2699.36 L945.67 2696.82 L950.96 2694.27 L956.26 2691.7 L961.55 2689.11 L966.84 2686.51 L972.13 2683.88 L977.43 2681.24 L982.72 2678.59 L988.01 2675.91 L993.3 2673.22 L998.59 2670.5 L1003.89 2667.78 L1009.18 2665.03 L1014.47 2662.26 L1019.76 2659.48 L1025.05 2656.68 L1030.35 2653.86 L1035.64 2651.03 L1040.93 2648.17 L1046.22 2645.3 L1051.52 2642.41 L1056.81 2639.5 L1062.1 2636.58 L1067.39 2633.63 L1072.68 2630.67 L1077.98 2627.69 L1083.27 2624.7 L1088.56 2621.68 L1093.85 2618.65 L1099.14 2615.6 L1104.44 2612.53 L1109.73 2609.44 L1115.02 2606.34 L1120.31 2603.22 L1125.61 2600.08 L1130.9 2596.92 L1136.19 2593.74 L1141.48 2590.55 L1146.77 2587.33 L1152.07 2584.1 L1157.36 2580.85 L1162.65 2577.59 L1167.94 2574.3 L1173.23 2571 L1178.53 2567.68 L1183.82 2564.34 L1189.11 2560.98 L1194.4 2557.6 L1199.7 2554.21 L1204.99 2550.79 L1210.28 2547.36 L1215.57 2543.91 L1220.86 2540.44 L1226.16 2536.95 L1231.45 2533.44 L1236.74 2529.92 L1242.03 2526.37 L1247.32 2522.81 L1252.62 2519.23 L1257.91 2515.62 L1263.2 2512 L1268.49 2508.36 L1273.79 2504.7 L1279.08 2501.02 L1284.37 2497.32 L1289.66 2493.6 L1294.95 2489.86 L1300.25 2486.1 L1305.54 2482.32 L1310.83 2478.52 L1316.12 2474.71 L1321.41 2470.87 L1326.71 2467.01 L1332 2463.13 L1337.29 2459.23 L1342.58 2455.31 L1347.88 2451.37 L1353.17 2447.41 L1358.46 2443.43 L1363.75 2439.43 L1369.04 2435.41 L1374.34 2431.36 L1379.63 2427.3 L1384.92 2423.22 L1390.21 2419.11 L1395.5 2414.99 L1400.8 2410.84 L1406.09 2406.68 L1411.38 2402.5 L1416.67 2398.3 L1421.97 2394.08 L1427.26 2389.85 L1432.55 2385.6 L1437.84 2381.33 L1443.13 2377.05 L1448.43 2372.76 L1453.72 2368.45 L1459.01 2364.13 L1464.3 2359.79 L1469.6 2355.44 L1474.89 2351.08 L1480.18 2346.71 L1485.47 2342.32 L1490.76 2337.93 L1496.06 2333.53 L1501.35 2329.11 L1506.64 2324.69 L1511.93 2320.26 L1517.22 2315.82 L1522.52 2311.37 L1527.81 2306.92 L1533.1 2302.45 L1538.39 2297.99 L1543.68 2293.51 L1548.98 2289.04 L1554.27 2284.56 L1559.56 2280.07 L1564.85 2275.58 L1570.15 2271.09 L1575.44 2266.59 L1580.73 2262.1 L1586.02 2257.6 L1591.31 2253.1 L1593.96 2250.85 L1596.61 2248.6 L1599.25 2246.35 L1601.9 2244.1 L1604.54 2241.85 L1607.19 2239.6 L1609.84 2237.34 L1612.48 2235.09 L1615.13 2232.83 L1617.78 2230.57 L1620.42 2228.32 L1623.07 2226.05 L1625.71 2223.79 L1628.36 2221.53 L1631.01 2219.26 L1633.65 2216.99 L1636.3 2214.72 L1638.94 2212.44 L1641.59 2210.17 L1644.24 2207.89 L1646.88 2205.6 L1649.53 2203.31 L1652.17 2201.02 L1654.82 2198.73 L1657.47 2196.43 L1660.11 2194.13 L1662.76 2191.82 L1665.4 2189.51 L1668.05 2187.2 L1670.7 2184.88 L1673.34 2182.55 L1675.99 2180.23 L1678.63 2177.89 L1681.28 2175.55 L1683.93 2173.21 L1686.57 2170.86 L1689.22 2168.5 L1691.87 2166.14 L1694.51 2163.77 L1697.16 2161.4 L1699.8 2159.02 L1702.45 2156.63 L1705.1 2154.24 L1707.74 2151.85 L1710.39 2149.44 L1713.03 2147.03 L1715.68 2144.62 L1718.33 2142.2 L1720.97 2139.78 L1723.62 2137.35 L1726.26 2134.91 L1728.91 2132.48 L1731.56 2130.03 L1734.2 2127.59 L1736.85 2125.14 L1739.49 2122.68 L1742.14 2120.22 L1744.79 2117.76 L1747.43 2115.29 L1750.08 2112.83 L1752.72 2110.35 L1755.37 2107.88 L1758.02 2105.4 L1760.66 2102.92 L1763.31 2100.44 L1765.95 2097.95 L1768.6 2095.47 L1771.25 2092.98 L1773.89 2090.48 L1776.54 2087.99 L1779.19 2085.5 L1781.83 2083 L1784.48 2080.5 L1787.12 2078 L1789.77 2075.51 L1792.42 2073.01 L1795.06 2070.5 L1797.71 2068 L1800.35 2065.5 L1803 2063" fill="none" stroke="#00f" stroke-width="9" stroke-linejoin="round"/>
<path d="M321.2 2821.33L344.2 2861.33L298.2 2861.33Z" fill="#00f"/>
<path d="M532.89 2803.63L555.89 2843.63L509.89 2843.63Z" fill="#00f"/>
<path d="M744.57 2752.53L767.57 2792.53L721.57 2792.53Z" fill="#00f"/>
<path d="M956.26 2665.03L979.26 2705.03L933.26 2705.03Z" fill="#00f"/>
<path d="M1167.94 2547.63L1190.94 2587.63L1144.94 2587.63Z" fill="#00f"/>
<path d="M1379.63 2400.63L1402.63 2440.63L1356.63 2440.63Z" fill="#00f"/>
<path d="M1591.31 2226.43L1614.31 2266.43L1568.31 2266.43Z" fill="#00f"/>
<path d="M1697.16 2134.73L1720.16 2174.73L1674.16 2174.73Z" fill="#00f"/>
<path d="M1803 2036.33L1826 2076.33L1780 2076.33Z" fill="#00f"/>
<path d="M321.2 2848 L326.49 2847.29 L331.78 2846.58 L337.08 2845.87 L342.37 2845.15 L347.66 2844.44 L352.95 2843.73 L358.25 2843.02 L363.54 2842.31 L368.83 2841.6 L374.12 2840.88 L379.41 2840.17 L384.71 2839.46 L390 2838.75 L395.29 2838.04 L400.58 2837.32 L405.87 2836.61 L411.17 2835.9 L416.46 2835.19 L421.75 2834.48 L427.04 2833.76 L432.33 2833.05 L437.63 2832.34 L442.92 2831.63 L448.21 2830.91 L453.5 2830.2 L458.8 2829.49 L464.09 2828.78 L469.38 2828.06 L474.67 2827.35 L479.96 2826.64 L485.26 2825.92 L490.55 2825.21 L495.84 2824.5 L501.13 2823.78 L506.42 2823.07 L511.72 2822.36 L517.01 2821.64 L522.3 2820.93 L527.59 2820.21 L532.89 2819.5 L538.18 2818.79 L543.47 2818.07 L548.76 2817.36 L554.05 2816.64 L559.35 2815.93 L564.64 2815.21 L569.93 2814.5 L575.22 2813.78 L580.51 2813.07 L585.81 2812.35 L591.1 2811.64 L596.39 2810.92 L601.68 2810.21 L606.98 2809.49 L612.27 2808.78 L617.56 2808.07 L622.85 2807.35 L628.14 2806.64 L633.44 2805.92 L638.73 2805.21 L644.02 2804.5 L649.31 2803.78 L654.61 2803.07 L659.9 2802.36 L665.19 2801.64 L670.48 2800.93 L675.77 2800.22 L681.07 2799.51 L686.36 2798.8 L691.65 2798.09 L696.94 2797.38 L702.23 2796.67 L707.53 2795.96 L712.82 2795.25 L718.11 2794.54 L723.4 2793.83 L728.69 2793.12 L733.99 2792.41 L739.28 2791.71 L744.57 2791 L749.86 2790.29 L755.16 2789.59 L760.45 2788.88 L765.74 2788.18 L771.03 2787.48 L776.32 2786.77 L781.62 2786.07 L786.91 2785.37 L792.2 2784.67 L797.49 2783.96 L802.78 2783.26 L808.08 2782.56 L813.37 2781.86 L818.66 2781.16 L823.95 2780.46 L829.25 2779.77 L834.54 2779.07 L839.83 2778.37 L845.12 2777.67 L850.41 2776.98 L855.71 2776.28 L861 2775.58 L866.29 2774.89 L871.58 2774.19 L876.87 2773.5 L882.17 2772.8 L887.46 2772.11 L892.75 2771.41 L898.04 2770.72 L903.34 2770.02 L908.63 2769.33 L913.92 2768.64 L919.21 2767.94 L924.5 2767.25 L929.8 2766.56 L935.09 2765.87 L940.38 2765.17 L945.67 2764.48 L950.96 2763.79 L956.26 2763.1 L961.55 2762.41 L966.84 2761.72 L972.13 2761.03 L977.43 2760.34 L982.72 2759.65 L988.01 2758.96 L993.3 2758.27 L998.59 2757.58 L1003.89 2756.89 L1009.18 2756.2 L1014.47 2755.51 L1019.76 2754.82 L1025.05 2754.13 L1030.35 2753.45 L1035.64 2752.76 L1040.93 2752.07 L1046.22 2751.39 L1051.52 2750.7 L1056.81 2750.01 L1062.1 2749.33 L1067.39 2748.64 L1072.68 2747.96 L1077.98 2747.27 L1083.27 2746.59 L1088.56 2745.9 L1093.85 2745.22 L1099.14 2744.54 L1104.44 2743.86 L1109.73 2743.17 L1115.02 2742.49 L1120.31 2741.81 L1125.61 2741.13 L1130.9 2740.45 L1136.19 2739.77 L1141.48 2739.09 L1146.77 2738.41 L1152.07 2737.73 L1157.36 2737.05 L1162.65 2736.38 L1167.94 2735.7 L1173.23 2735.02 L1178.53 2734.35 L1183.82 2733.67 L1189.11 2733 L1194.4 2732.32 L1199.7 2731.65 L1204.99 2730.98 L1210.28 2730.3 L1215.57 2729.63 L1220.86 2728.96 L1226.16 2728.29 L1231.45 2727.61 L1236.74 2726.94 L1242.03 2726.27 L1247.32 2725.6 L1252.62 2724.93 L1257.91 2724.26 L1263.2 2723.59 L1268.49 2722.92 L1273.79 2722.25 L1279.08 2721.59 L1284.37 2720.92 L1289.66 2720.25 L1294.95 2719.58 L1300.25 2718.91 L1305.54 2718.24 L1310.83 2717.58 L1316.12 2716.91 L1321.41 2716.24 L1326.71 2715.57 L1332 2714.91 L1337.29 2714.24 L1342.58 2713.57 L1347.88 2712.9 L1353.17 2712.24 L1358.46 2711.57 L1363.75 2710.9 L1369.04 2710.23 L1374.34 2709.57 L1379.63 2708.9 L1384.92 2708.23 L1390.21 2707.57 L1395.5 2706.9 L1400.8 2706.23 L1406.09 2705.56 L1411.38 2704.9 L1416.67 2704.23 L1421.97 2703.56 L1427.26 2702.9 L1432.55 2702.23 L1437.84 2701.57 L1443.13 2700.9 L1448.43 2700.24 L1453.72 2699.58 L1459.01 2698.92 L1464.3 2698.25 L1469.6 2697.59 L1474.89 2696.94 L1480.18 2696.28 L1485.47 2695.62 L1490.76 2694.96 L1496.06 2694.31 L1501.35 2693.66 L1506.64 2693 L1511.93 2692.35 L1517.22 2691.7 L1522.52 2691.06 L1527.81 2690.41 L1533.1 2689.76 L1538.39 2689.12 L1543.68 2688.48 L1548.98 2687.84 L1554.27 2687.2 L1559.56 2686.57 L1564.85 2685.94 L1570.15 2685.3 L1575.44 2684.67 L1580.73 2684.05 L1586.02 2683.42 L1591.31 2682.8 L1593.96 2682.49 L1596.61 2682.18 L1599.25 2681.87 L1601.9 2681.56 L1604.54 2681.25 L1607.19 2680.95 L1609.84 2680.64 L1612.48 2680.33 L1615.13 2680.03 L1617.78 2679.72 L1620.42 2679.42 L1623.07 2679.11 L1625.71 2678.81 L1628.36 2678.5 L1631.01 2678.2 L1633.65 2677.9 L1636.3 2677.59 L1638.94 2677.29 L1641.59 2676.99 L1644.24 2676.69 L1646.88 2676.39 L1649.53 2676.08 L1652.17 2675.78 L1654.82 2675.48 L1657.47 2675.18 L1660.11 2674.88 L1662.76 2674.58 L1665.4 2674.28 L1668.05 2673.98 L1670.7 2673.68 L1673.34 2673.39 L1675.99 2673.09 L1678.63 2672.79 L1681.28 2672.49 L1683.93 2672.19 L1686.57 2671.89 L1689.22 2671.59 L1691.87 2671.3 L1694.51 2671 L1697.16 2670.7 L1699.8 2670.4 L1702.45 2670.1 L1705.1 2669.81 L1707.74 2669.51 L1710.39 2669.21 L1713.03 2668.91 L1715.68 2668.61 L1718.33 2668.32 L1720.97 2668.02 L1723.62 2667.72 L1726.26 2667.42 L1728.91 2667.13 L1731.56 2666.83 L1734.2 2666.53 L1736.85 2666.23 L1739.49 2665.94 L1742.14 2665.64 L1744.79 2665.34 L1747.43 2665.04 L1750.08 2664.75 L1752.72 2664.45 L1755.37 2664.15 L1758.02 2663.85 L1760.66 2663.56 L1763.31 2663.26 L1765.95 2662.96 L1768.6 2662.66 L1771.25 2662.37 L1773.89 2662.07 L1776.54 2661.77 L1779.19 2661.48 L1781.83 2661.18 L1784.48 2660.88 L1787.12 2660.58 L1789.77 2660.29 L1792.42 2659.99 L1795.06 2659.69 L1797.71 2659.39 L1800.35 2659.1 L1803 2658.8" fill="none" stroke="#f00" stroke-width="9" stroke-linejoin="round"/>
<circle cx="321.2" cy="2848" r="19" fill="#f00"/>
<circle cx="532.89" cy="2819.5" r="19" fill="#f00"/>
<circle cx="744.57" cy="2791" r="19" fill="#f00"/>
<circle cx="956.26" cy="2763.1" r="19" fill="#f00"/>
<circle cx="1167.94" cy="2735.7" r="19" fill="#f00"/>
<circle cx="1379.63" cy="2708.9" r="19" fill="#f00"/>
<circle cx="1591.31" cy="2682.8" r="19" fill="#f00"/>
<circle cx="1697.16" cy="2670.7" r="19" fill="#f00"/>
<circle cx="1803" cy="2658.8" r="19" fill="#f00"/>
</g>
<path d="M360 1843.3H498.3" stroke="#00f" stroke-width="9" stroke-linecap="round"/>
<rect x="412.35" y="1826.05" width="30.3" height="30.3" fill="#fff" stroke="#00f" stroke-width="2.2"/>
<text x="513.8" y="1862.1" font-size="62">Efficiency</text>
<path d="M360.3 1919.6H497.5" stroke="#f00" stroke-width="9" stroke-linecap="round"/>
<circle cx="428.7" cy="1917.9" r="18.4" fill="#f00"/>
<text x="512.8" y="1940" font-size="62">Current</text>
<path d="M355 2013.2H492.2" stroke="#000" stroke-width="9" stroke-linecap="round"/>
<circle cx="423.5" cy="2012" r="17.6" fill="#fff" stroke="#000" stroke-width="2.4"/>
<text x="508.9" y="2033.6" font-size="62">Input Power</text>
<path d="M355 2089.7H492.2" stroke="#00f" stroke-width="9" stroke-linecap="round"/>
<path d="M424.5 2062.7L446.9 2101.2L402.1 2101.2Z" fill="#00f"/>
<text x="508.3" y="2110" font-size="62">Output Power</text>
</svg>
</body></html>
